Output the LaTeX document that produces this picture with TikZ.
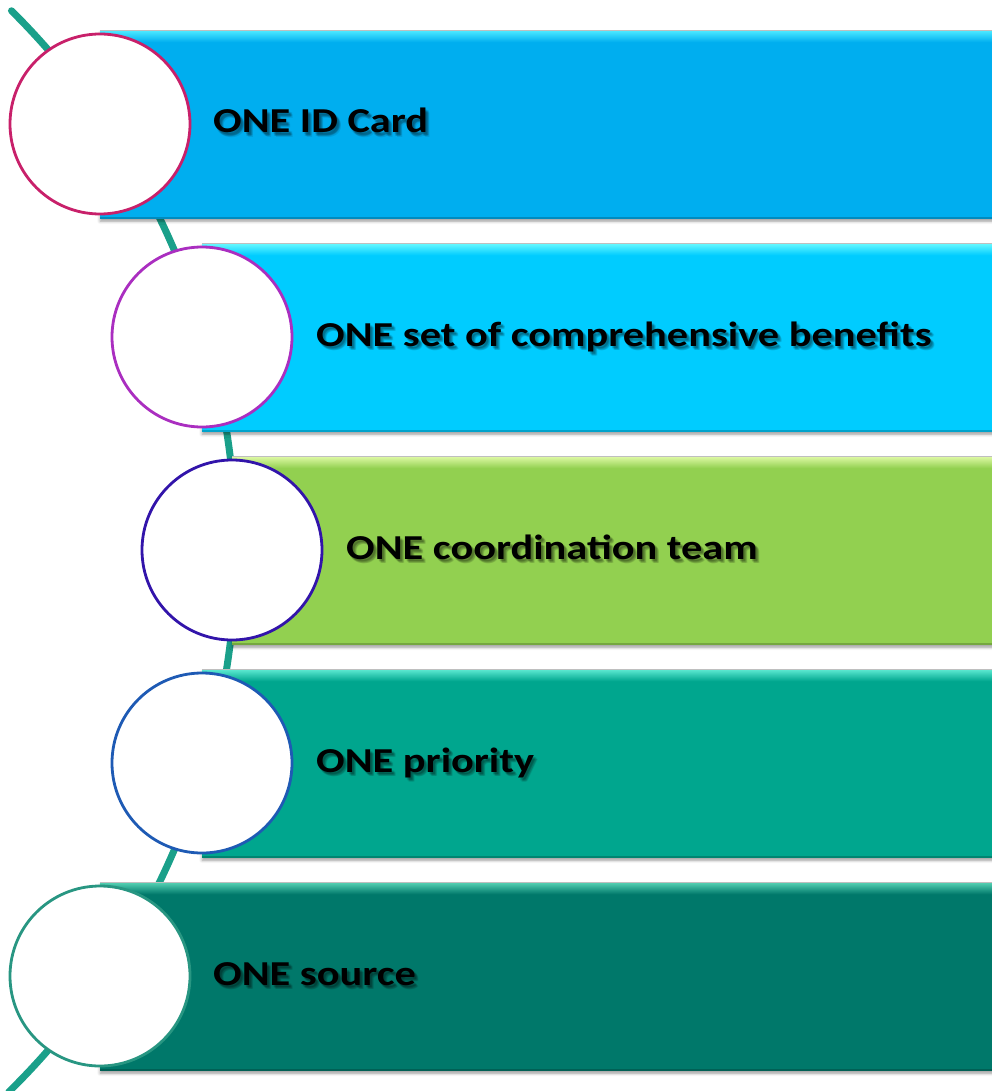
\documentclass[tikz,border=0pt]{standalone}
\usepackage{graphicx}
\usepackage{fontspec}
\setmainfont{Carlito}
\usetikzlibrary{shadows.blur}

\definecolor{barA}{HTML}{00AEEF}
\definecolor{barB}{HTML}{00CCFF}
\definecolor{barC}{HTML}{92D050}
\definecolor{barD}{HTML}{00A68E}
\definecolor{barE}{HTML}{00786A}
\definecolor{hiA}{HTML}{45E4FF}
\definecolor{hiB}{HTML}{5CF4FF}
\definecolor{hiC}{HTML}{D6F59C}
\definecolor{hiD}{HTML}{52E2CA}
\definecolor{hiE}{HTML}{4CC8AC}
\definecolor{ringA}{HTML}{C8206A}
\definecolor{ringB}{HTML}{AA2EC0}
\definecolor{ringC}{HTML}{3214AA}
\definecolor{ringD}{HTML}{1E5AB4}
\definecolor{ringE}{HTML}{289682}
\definecolor{spine}{HTML}{1AA08A}

\newcommand{\widetext}[1]{\scalebox{1.21}[1]{#1}}

\begin{document}
\begin{tikzpicture}[x=1pt,y=-1pt,
  bar/.style 2 args={rectangle, anchor=north west, inner sep=0pt,
    minimum width=900pt, minimum height=188pt, fill=#1,
    blur shadow={shadow xshift=0pt, shadow yshift=-3pt,
      shadow blur radius=3pt, shadow opacity=40},
    path picture={
      \draw[black!25, line width=1pt]
        (path picture bounding box.north west) --
        (path picture bounding box.north east);
      \shade[top color=#2, bottom color=#1]
        ([yshift=-1.5pt]path picture bounding box.north west) rectangle
        ([yshift=-12pt]path picture bounding box.north east);
      \draw[#1!80!black, line width=1.5pt]
        (path picture bounding box.south west) --
        (path picture bounding box.south east);
    }},
  ring/.style={circle, minimum size=180pt, inner sep=0pt,
    fill=white, draw=#1, line width=2.8pt},
  itemtext/.style={anchor=base west, inner sep=0pt,
    font=\fontsize{35}{42}\selectfont\bfseries},
  textshade/.style={itemtext, text=black, opacity=0.09},
]
\useasboundingbox (0,0) rectangle (992,1091);

% curved spine behind the list
\draw[spine, line width=7pt, line cap=round]
  (-524,550) ++(-45.2:760) arc[start angle=-45.2, end angle=45.5, radius=760];

% bars
\node[bar={barA}{hiA}] (b1) at (100,30)  {};
\node[bar={barB}{hiB}] (b2) at (202,243) {};
\node[bar={barC}{hiC}] (b3) at (232,456) {};
\node[bar={barD}{hiD}] (b4) at (202,669) {};
\node[bar={barE}{hiE}] (b5) at (100,882) {};

% circles
\node[ring=ringA] (c1) at (100,124) {};
\node[ring=ringB] (c2) at (202,337) {};
\node[ring=ringC] (c3) at (232,550) {};
\node[ring=ringD] (c4) at (202,763) {};
\node[ring=ringE] (c5) at (100,976) {};

% labels with a soft drop shadow
\foreach \n/\dx/\cy/\txt in {
    1/213/124/{ONE ID Card},
    2/316/337/{ONE set of comprehensive benefits},
    3/346/550/{ONE coordination team},
    4/316/763/{ONE priority},
    5/213/976/{ONE source}}{
  \foreach \ox/\oy in {1.5/2, 2.5/2.5, 3.5/3, 2/3.5, 3/4, 4/4.5}
    \node[textshade] at (\dx+\ox,\cy+9+\oy) {\widetext{\txt}};
  \node[itemtext] (t\n) at (\dx,\cy+9) {\widetext{\txt}};
}
\end{tikzpicture}
\end{document}
